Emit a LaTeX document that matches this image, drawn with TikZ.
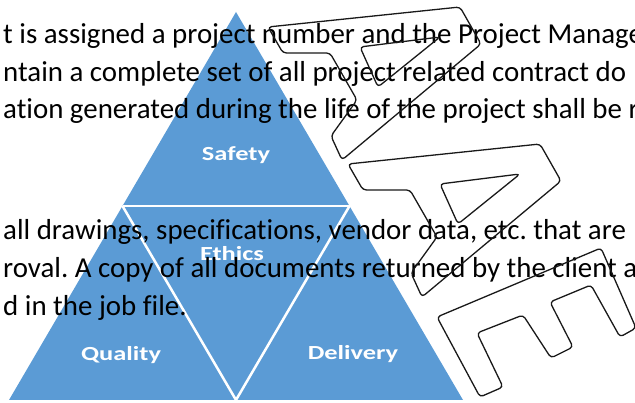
\documentclass[tikz,border=0pt]{standalone}
\usepackage{fontspec}
\setmainfont{Carlito}[Ligatures=NoCommon]
\usepackage{graphicx}
\definecolor{triblue}{RGB}{91,155,213}
\frenchspacing
\begin{document}
\begin{tikzpicture}[x=1pt,y=-1pt,
  bodytext/.style={anchor=base west, inner sep=0pt, font=\fontsize{28.9}{31}\selectfont, text=black},
  tierlabel/.style={anchor=base, inner sep=0pt, text=white, font=\bfseries\fontsize{20}{22}\selectfont},
  letteroutline/.style={draw=black!90, line width=1.3pt, rounded corners=3.5pt, line join=round},
  gap/.style={draw=white, line width=2.5pt}]
\useasboundingbox (0,0) rectangle (635,403);
\clip (0,0) rectangle (635,403);
% pyramid
\coordinate (apex) at (236,12);
\coordinate (bl) at (9,400);
\coordinate (br) at (463,400);
\coordinate (ml) at (122.5,206);
\coordinate (mr) at (349.5,206);
\coordinate (mb) at (236,400);
\fill[triblue] (apex) -- (br) -- (bl) -- cycle;
\draw[gap] (ml) -- (mr);
\draw[gap] (ml) -- (mb);
\draw[gap] (mr) -- (mb);
\node[tierlabel] (safety) at (236,161) {\scalebox{1.32}[1]{Safety}};
\node[tierlabel] (ethics) at (232,261) {\scalebox{1.32}[1]{Ethics}};
\node[tierlabel] (quality) at (121,361) {\scalebox{1.32}[1]{Quality}};
\node[tierlabel] (delivery) at (353,360) {\scalebox{1.32}[1]{Delivery}};
% body text
\node[bodytext] (l1) at (3,44) {t is assigned a project number and the Project Manager};
\node[bodytext] (l2) at (3,81.5) {ntain a complete set of all project related contract do};
\node[bodytext] (l3) at (3,119) {ation generated during the life of the project shall be r};
\node[bodytext] (l4) at (3,240) {all drawings, specifications, vendor data, etc. that are};
\node[bodytext] (l5) at (3,278) {roval. A copy of all documents returned by the client a};
\node[bodytext] (l6) at (3,316) {d in the job file.};
% AAE outline letters
\draw[letteroutline] (268,27) -- (460,7) -- (481,44) -- (342,160) -- (331,136) -- (357,100) -- (330,53) -- (283,53) -- cycle;
\draw[letteroutline] (360,47) -- (440,37) -- (378,87) -- cycle;
\begin{scope}[shift={(80,137)}]
\draw[letteroutline] (268,27) -- (460,7) -- (481,44) -- (342,160) -- (331,136) -- (357,100) -- (330,53) -- (283,53) -- cycle;
\draw[letteroutline] (360,47) -- (440,37) -- (378,87) -- cycle;
\end{scope}
\draw[letteroutline] (437,317) -- (601,248) -- (636,328) -- (620,337) -- (591,285) -- (550,302) -- (573,347) -- (551,358) -- (523,315) -- (477,333) -- (503,387) -- (480,397) -- cycle;
\end{tikzpicture}
\end{document}
